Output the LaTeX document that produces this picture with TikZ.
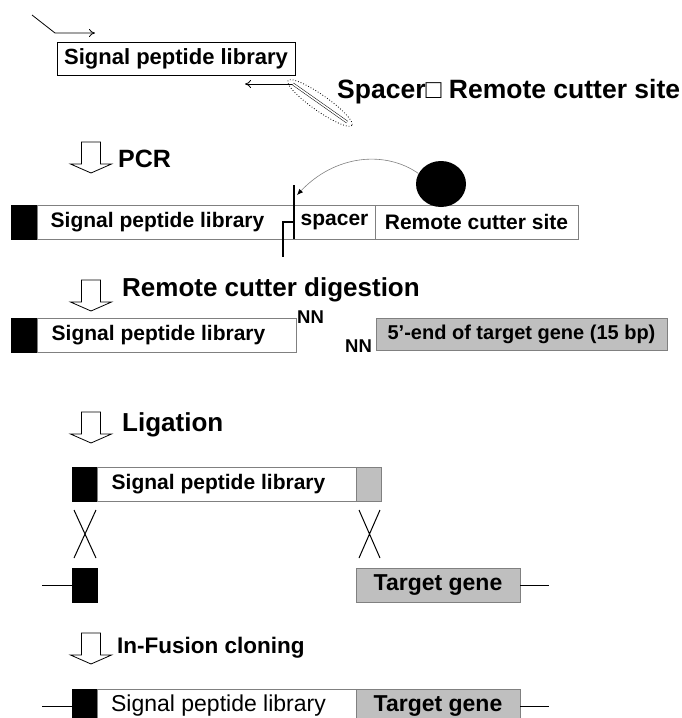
\documentclass[tikz,border=0pt]{standalone}
\usepackage{fontspec}
\setmainfont{Liberation Sans}
\usetikzlibrary{positioning,arrows.meta,shapes.geometric}

% hollow step arrow: centre x, top y
\newcommand\steparrow[2]{%
  \draw[hollow] (#1-9.5,#2) -- ++(0,22) -- ++(-11,0) -- ++(20.5,9) -- ++(20.5,-9) -- ++(-11,0) -- ++(0,-22) -- cycle;}
\newcommand\shiftleft{\hspace*{-16pt}}

\begin{document}
\begin{tikzpicture}[x=1pt, y=-1pt,
    seg/.style={draw=black!50, line width=0.8pt, inner sep=0pt, outer sep=0pt, minimum height=34, anchor=north west, font=\fontsize{21}{24}\selectfont\bfseries},
    blk/.style={seg, fill=black, draw=black, minimum width=25},
    tgt/.style={seg, fill=black!25},
    steplabel/.style={anchor=west, inner sep=0pt, font=\fontsize{26}{28}\selectfont\bfseries},
    hollow/.style={draw=black, line width=0.8pt, fill=white, line join=miter},
    primer/.style={-{To[length=6pt, width=8pt]}, line width=0.8pt},
    tail/.style={line width=0.8pt},
    cross/.style={line width=1pt},
    cutline/.style={line width=1.4pt}
  ]
  \useasboundingbox (0,0) rectangle (682,718);

  % primers on the library
  \coordinate (fwdstart) at (32,15);
  \coordinate (fwdbend) at (55,33);
  \coordinate (fwdend) at (95,33);
  \draw[primer] (fwdstart) -- (fwdbend) -- (fwdend);
  \node[seg, draw=black, minimum width=238, minimum height=33, font=\fontsize{22}{24}\selectfont\bfseries] (toplib) at (57,42) {Signal peptide library};
  \coordinate (revstart) at (293,84);
  \coordinate (revend) at (245,84);
  \coordinate (tagend) at (347,122);
  \draw[primer] (revstart) -- (revend);
  \draw[double, double distance=1.6pt, line width=0.5pt] (revstart) -- (tagend);
  \draw[dotted, line width=0.8pt, rotate around={-35:(320,103)}] (320,103) ellipse [x radius=39, y radius=8];
  \node[anchor=west, inner sep=0pt, font=\fontsize{26.5}{28}\selectfont\bfseries] (taglabel) at (337,92) {Spacer□ Remote cutter site};

  % PCR
  \steparrow{91}{142}
  \node[steplabel, font=\fontsize{25}{28}\selectfont\bfseries] (pcrlabel) at (118,159) {PCR};
  \node[blk, minimum width=26] (pcrblk) at (11,205) {};
  \node[seg, right=0pt of pcrblk, minimum width=257] (pcrlib) {\shiftleft Signal peptide library};
  \node[seg, right=0pt of pcrlib, minimum width=81] (pcrspc) {spacer};
  \node[seg, right=0pt of pcrspc, minimum width=203] (pcrrcs) {Remote cutter site};
  \coordinate (cuttop) at (294,185);
  \coordinate (cutbase) at (294,239);
  \coordinate (cutstep) at (294,222);
  \coordinate (cutbot) at (283,257);
  \draw[cutline] (cuttop) -- (cutbase);
  \draw[cutline] (cutstep) -| (cutbot);
  \node[ellipse, fill=black, minimum width=50, minimum height=46, inner sep=0pt] (cutter) at (441,184) {};
  \coordinate (cuttip) at (297,195);
  \draw[-{Latex[length=6pt, width=5pt, black]}, draw=black!50, line width=0.6pt] (cutter.155) .. controls (385,150) and (335,155) .. (cuttip);

  % digestion
  \steparrow{91}{280}
  \node[steplabel] (diglabel) at (122,290) {Remote cutter digestion};
  \node[blk, minimum width=26] (digblk) at (11,318) {};
  \node[seg, right=0pt of digblk, minimum width=259] (diglib) {\shiftleft Signal peptide library};
  \node[anchor=north west, inner sep=0pt, font=\fontsize{18.5}{20}\selectfont\bfseries] (nnleft) at (297,311) {NN};
  \node[anchor=south west, inner sep=0pt, font=\fontsize{18.5}{20}\selectfont\bfseries] (nnright) at (345,353) {NN};
  \node[tgt, minimum width=291, minimum height=32, font=\fontsize{20}{22}\selectfont\bfseries] (digtgt) at (376,318) {5’-end of target gene (15 bp)};

  % ligation
  \steparrow{91}{412}
  \node[steplabel] (liglabel) at (122,425) {Ligation};
  \node[blk] (ligblk) at (72,467) {};
  \node[seg, right=0pt of ligblk, minimum width=259] (liglib) {\shiftleft Signal peptide library};
  \node[tgt, right=0pt of liglib, minimum width=25] (ligtgt) {};
  \draw[cross] (74,510) -- (96,558) (96,510) -- (74,558);
  \draw[cross] (359,510) -- (380,558) (380,510) -- (359,558);
  \node[blk] (recblk) at (72,568) {};
  \node[tgt, minimum width=164, font=\fontsize{23}{26}\selectfont\bfseries] (rectgt) at (356,568) {Target gene};
  \coordinate (recleft) at (42,585);
  \coordinate (recright) at (549,585);
  \draw[tail] (recleft) -- (recblk.west);
  \draw[tail] (rectgt.east) -- (recright);

  % in-fusion
  \steparrow{91}{633}
  \node[steplabel, font=\fontsize{22.5}{24}\selectfont\bfseries] (inflabel) at (117,648) {In-Fusion cloning};
  \node[blk] (finblk) at (72,689) {};
  \node[seg, right=0pt of finblk, minimum width=259, font=\fontsize{23}{26}\selectfont] (finlib) {\shiftleft Signal peptide library};
  \node[tgt, right=0pt of finlib, minimum width=164, font=\fontsize{23}{26}\selectfont\bfseries] (fintgt) {Target gene};
  \coordinate (finleft) at (42,706);
  \coordinate (finright) at (549,706);
  \draw[tail] (finleft) -- (finblk.west);
  \draw[tail] (fintgt.east) -- (finright);
\end{tikzpicture}
\end{document}
